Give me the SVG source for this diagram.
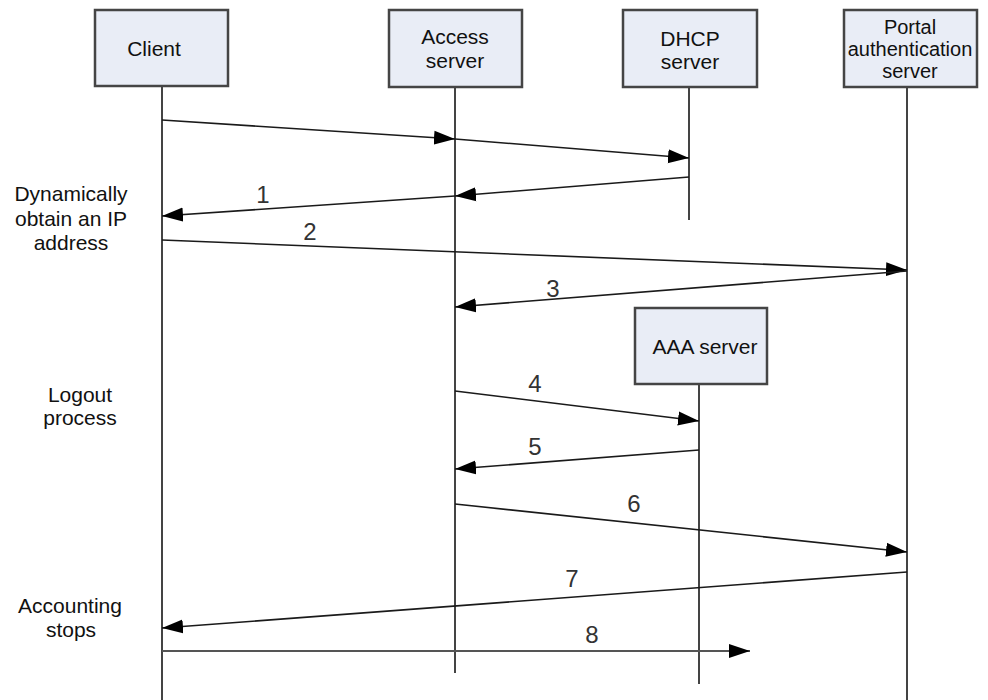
<svg xmlns="http://www.w3.org/2000/svg" width="988" height="700" viewBox="0 0 988 700">
  <style>
    .box { fill: #e9edf6; stroke: #454545; stroke-width: 2.5; }
    .life { stroke: #444; stroke-width: 2; fill: none; }
    .msg { stroke: #1a1a1a; stroke-width: 1.6; fill: none; marker-end: url(#head); }
    .txt { font-family: "Liberation Sans", Arial, sans-serif; font-size: 21px; fill: #111; text-anchor: middle; }
    .num { font-family: "Liberation Sans", Arial, sans-serif; font-size: 24px; fill: #333; text-anchor: middle; }
  </style>
  <defs>
    <marker id="head" markerUnits="userSpaceOnUse" markerWidth="22" markerHeight="16" refX="21" refY="8" orient="auto">
      <path d="M0,1 L21,8 L0,15 Z" fill="#000"/>
    </marker>
  </defs>

  <rect width="988" height="700" fill="#fff"/>

  <!-- lifelines -->
  <g id="lifelines">
    <line class="life" x1="162" y1="86" x2="162" y2="700"/>
    <line class="life" x1="455" y1="87" x2="455" y2="673"/>
    <line class="life" x1="689" y1="87" x2="689" y2="220"/>
    <line class="life" x1="907" y1="87" x2="907" y2="700"/>
    <line class="life" x1="699" y1="384" x2="699" y2="684"/>
  </g>

  <!-- participants -->
  <g id="client">
    <rect class="box" x="95" y="10" width="133" height="76"/>
    <text class="txt" x="154" y="56">Client</text>
  </g>
  <g id="access-server">
    <rect class="box" x="389" y="10" width="133" height="77"/>
    <text class="txt" x="455" y="44">Access</text>
    <text class="txt" x="455" y="68">server</text>
  </g>
  <g id="dhcp-server">
    <rect class="box" x="623" y="10" width="134" height="77"/>
    <text class="txt" x="690" y="46">DHCP</text>
    <text class="txt" x="690" y="69">server</text>
  </g>
  <g id="portal-server">
    <rect class="box" x="844" y="10" width="133" height="77"/>
    <text class="txt" x="910" y="34" style="font-size:20px">Portal</text>
    <text class="txt" x="910" y="56" style="font-size:20px">authentication</text>
    <text class="txt" x="910" y="78" style="font-size:20px">server</text>
  </g>
  <g id="aaa-server">
    <rect class="box" x="635" y="308" width="132" height="76"/>
    <text class="txt" x="705" y="354">AAA server</text>
  </g>

  <!-- phase labels -->
  <g id="phase-labels">
    <text class="txt" x="71" y="201">Dynamically</text>
    <text class="txt" x="71" y="226">obtain an IP</text>
    <text class="txt" x="71" y="250">address</text>
    <text class="txt" x="80" y="402">Logout</text>
    <text class="txt" x="80" y="425">process</text>
    <text class="txt" x="70" y="613">Accounting</text>
    <text class="txt" x="71" y="637">stops</text>
  </g>

  <!-- messages -->
  <g id="connectors">
    <line class="msg" x1="162" y1="120" x2="455" y2="139"/>
    <line class="msg" x1="455" y1="139" x2="689" y2="158"/>
    <line class="msg" x1="689" y1="177" x2="455" y2="196"/>
    <line class="msg" x1="455" y1="196" x2="162" y2="216"/>
    <line class="msg" x1="162" y1="240" x2="907" y2="270"/>
    <line class="msg" x1="907" y1="271" x2="455" y2="307"/>
    <line class="msg" x1="455" y1="391" x2="699" y2="421"/>
    <line class="msg" x1="699" y1="450" x2="455" y2="469"/>
    <line class="msg" x1="455" y1="504" x2="907" y2="552"/>
    <line class="msg" x1="907" y1="572" x2="162" y2="628"/>
    <line class="msg" x1="162" y1="651" x2="750" y2="651" style="stroke:#555;stroke-width:2"/>
  </g>

  <!-- message numbers -->
  <g id="numbers">
    <text class="num" x="263" y="203">1</text>
    <text class="num" x="310" y="240">2</text>
    <text class="num" x="553" y="297">3</text>
    <text class="num" x="535" y="392">4</text>
    <text class="num" x="535" y="455">5</text>
    <text class="num" x="634" y="512">6</text>
    <text class="num" x="572" y="587">7</text>
    <text class="num" x="592" y="643">8</text>
  </g>
</svg>
